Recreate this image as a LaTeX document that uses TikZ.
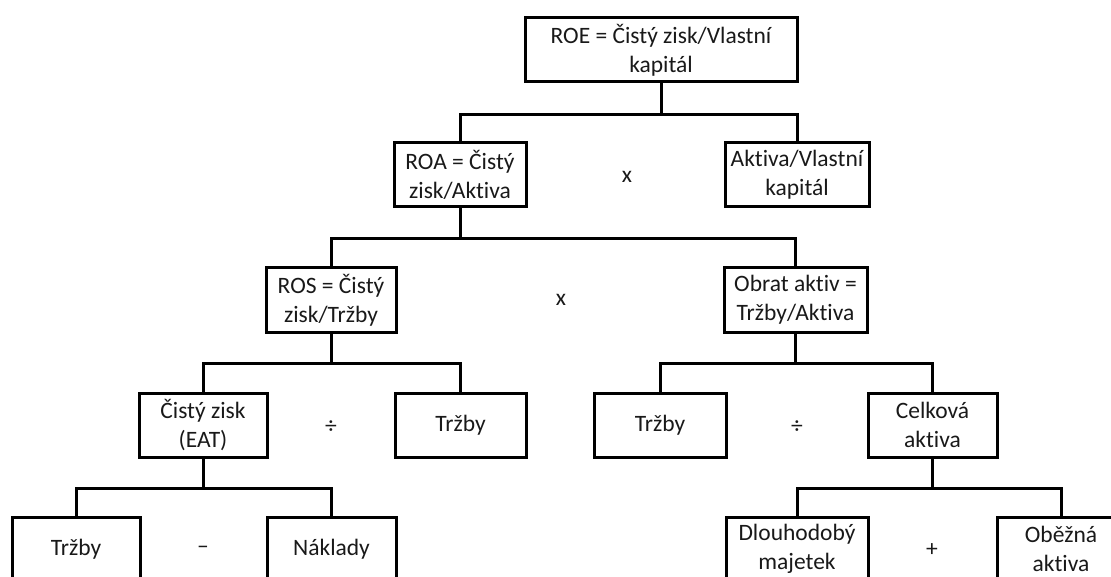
\documentclass[tikz,border=0pt]{standalone}
\usepackage{fontspec}
\setmainfont{Carlito}[Ligatures={NoCommon}]
\begin{document}
\begin{tikzpicture}[x=1pt,y=-1pt,
  box/.style={draw, line width=3pt, inner sep=0pt, align=center,
    font=\fontsize{23.5}{29}\selectfont, minimum height=64pt, text=black!90},
  op/.style={font=\fontsize{23.5}{29}\selectfont, inner sep=0pt, text=black!90},
  conn/.style={line width=3pt}]
\useasboundingbox (0,0) rectangle (1111,577);
\clip (0,0) rectangle (1111,577);
% level 1
\node[box, minimum width=272pt] (roe) at (661,50) {ROE = Čistý zisk/Vlastní\\kapitál};
% level 2
\node[box, minimum width=132pt] (roa) at (460,175) {ROA = Čistý\\zisk/Aktiva};
\node[box, minimum width=144pt] (akv) at (797,175) {Aktiva/Vlastní\\kapitál};
\node[op] (op1) at (627,177) {x};
% level 3
\node[box, minimum width=130pt] (ros) at (331,300) {ROS = Čistý\\zisk/Tržby};
\node[box, minimum width=143pt] (obr) at (795.5,300) {Obrat aktiv =\\Tržby/Aktiva};
\node[op] (op2) at (561,300) {x};
% level 4
\node[box, minimum width=128pt] (cz) at (203,425) {Čistý zisk\\(EAT)};
\node[box, minimum width=131pt] (tr1) at (460.5,425) {Tržby};
\node[op] (op3) at (331,427) {÷};
\node[box, minimum width=132pt] (tr2) at (660,425) {Tržby};
\node[box, minimum width=129pt] (ca) at (932.5,425) {Celková\\aktiva};
\node[op] (op4) at (797,427) {÷};
% level 5
\node[box, minimum width=128pt] (tr3) at (76,549) {Tržby};
\node[box, minimum width=129pt] (nak) at (331.5,549) {Náklady};
\node[op] (op5) at (203,550) {–};
\node[box, minimum width=142pt] (dm) at (797,549) {Dlouhodobý\\majetek};
\node[box, minimum width=128pt] (oa) at (1061,549) {Oběžná\\aktiva};
\node[op] (op6) at (932,550) {+};
% connectors
\draw[conn] (roe.south) -- ++(0,31) coordinate (b1);
\draw[conn] (roa.north) |- (b1) -| (akv.north);
\draw[conn] (roa.south) -- ++(0,30) coordinate (b2);
\draw[conn] (ros.north) |- (b2) -| (obr.north);
\draw[conn] (ros.south) -- ++(0,30) coordinate (b3);
\draw[conn] (cz.north) |- (b3) -| (tr1.north);
\draw[conn] (obr.south) -- ++(0,30) coordinate (b4);
\draw[conn] (tr2.north) |- (b4) -| (ca.north);
\draw[conn] (cz.south) -- ++(0,30) coordinate (b5);
\draw[conn] (tr3.north) |- (b5) -| (nak.north);
\draw[conn] (ca.south) -- ++(0,30) coordinate (b6);
\draw[conn] (dm.north) |- (b6) -| (oa.north);
\end{tikzpicture}
\end{document}
